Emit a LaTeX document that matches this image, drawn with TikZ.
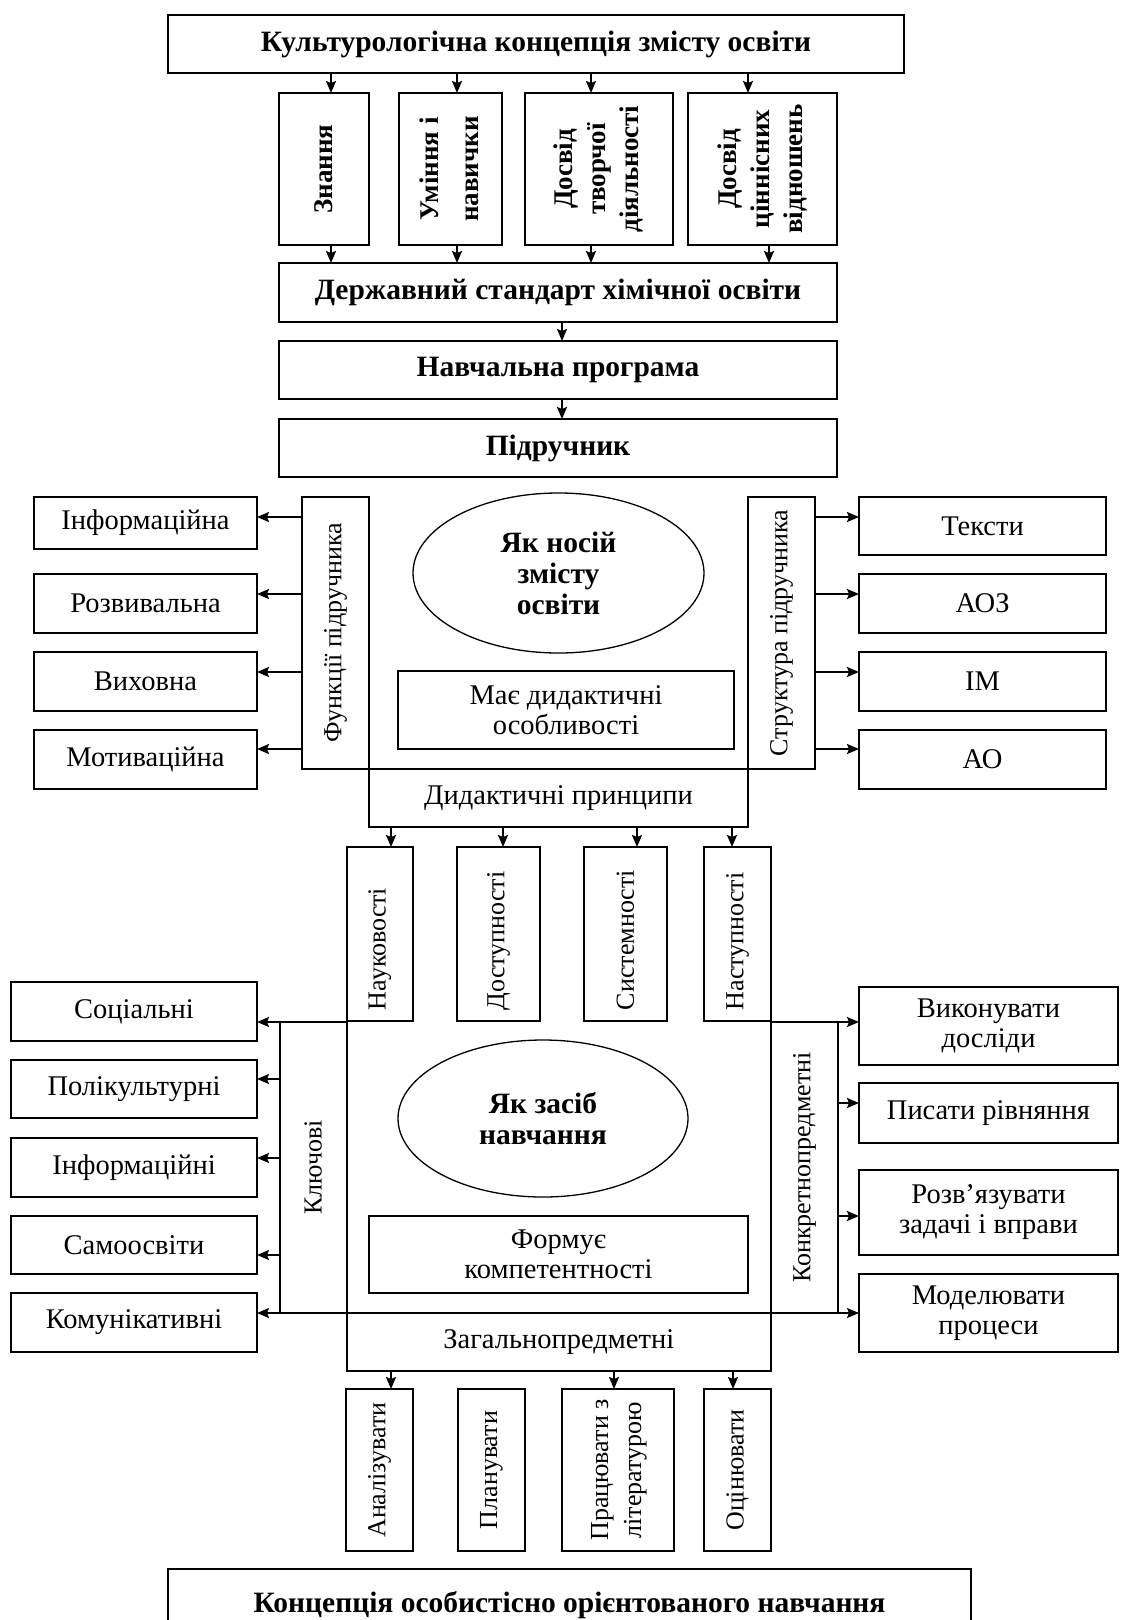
\documentclass[tikz,border=0pt]{standalone}
\usepackage{fontspec}
\setmainfont{Liberation Serif}
\usepackage{graphicx}
\usetikzlibrary{arrows.meta,shapes.geometric}
\newcommand\myfr{\fontsize{28.5}{30}\selectfont}
\newcommand\myfb{\fontsize{29.5}{31}\selectfont\bfseries}
\newcommand\myrr{\fontsize{26}{33}\selectfont}
\newcommand\myrb{\fontsize{27}{33}\selectfont\bfseries}
\newcommand\rotl[1]{\rotatebox{90}{\begin{tabular}{@{}c@{}}#1\end{tabular}}}
\newcommand\rotb[2]{\rotatebox{90}{\makebox[#1][l]{#2}}}
\tikzset{
  every node/.style={outer sep=0pt},
  sz/.style 2 args={minimum width=#1pt, minimum height=#2pt},
  bx/.style={draw, line width=2pt, inner sep=0pt, align=center, font=\myfr},
  bbx/.style={bx, font=\myfb},
  ell/.style={draw, ellipse, line width=1.3pt, inner sep=0pt, align=center, font=\myfb},
  arr/.style={line width=1.6pt, -{Stealth[length=12pt,width=10pt,inset=2pt]}}
}
\begin{document}
\begin{tikzpicture}[x=1pt,y=-1pt]
\useasboundingbox (0,0) rectangle (1120,1620);
\fill[white] (0,0) rectangle (1120,1620);
\clip (0,0) rectangle (1120,1620);

% ---------- section 1
\node[bbx, sz={736}{58}] (top) at (536,44) {Культурологічна концепція змісту освіти};
\node[bbx, sz={90}{152}]  (v1) at (324,169)   {\myrb\rotatebox{90}{Знання}};
\node[bbx, sz={103}{152}] (v2) at (450.5,169) {\fontsize{27}{40}\selectfont\bfseries\rotl{Уміння і\\навички}};
\node[bbx, sz={148}{152}] (v3) at (599,169)   {\myrb\rotl{Досвід\\творчої\\діяльності}};
\node[bbx, sz={149}{152}] (v4) at (762.5,169) {\myrb\rotl{Досвід\\ціннісних\\відношень}};
\node[bbx, sz={558}{59}] (ds) at (558,292.5) {Державний стандарт хімічної освіти};
\node[bbx, sz={558}{58}] (np) at (558,370) {Навчальна програма};
\node[bbx, sz={558}{58}] (pd) at (558,448) {Підручник};

\draw[arr] (top.south -| 331,0) -- (v1.north -| 331,0);
\draw[arr] (top.south -| 457,0) -- (v2.north -| 457,0);
\draw[arr] (top.south -| 591,0) -- (v3.north -| 591,0);
\draw[arr] (top.south -| 748,0) -- (v4.north -| 748,0);
\draw[arr] (v1.south -| 331,0) -- (ds.north -| 331,0);
\draw[arr] (v2.south -| 457,0) -- (ds.north -| 457,0);
\draw[arr] (v3.south -| 591,0) -- (ds.north -| 591,0);
\draw[arr] (v4.south -| 769,0) -- (ds.north -| 769,0);
\draw[arr] (ds.south -| 562,0) -- (np.north -| 562,0);
\draw[arr] (np.south -| 562,0) -- (pd.north -| 562,0);

% ---------- section 2
\node[bx, sz={67}{272}] (fc) at (335.5,633) {\myrr\rotatebox{90}{Функції підручника}};
\node[bx, sz={67}{272}] (sc) at (781.5,633) {\myrr\rotatebox{90}{Структура підручника}};
\node[bx, sz={379}{58}] (dp) at (558.5,798) {Дидактичні принципи};
\node[ell, minimum width=291pt, minimum height=160pt] (e1) at (558.5,573) {Як носій\\змісту\\освіти};
\node[bx, sz={336}{78}] (ma) at (566,710) {Має дидактичні\\особливості};

\node[bx, sz={223}{52}] (inf) at (145.5,523)   {Інформаційна};
\node[bx, sz={223}{59}] (roz) at (145.5,603.5) {Розвивальна};
\node[bx, sz={223}{59}] (vyh) at (145.5,681.5) {Виховна};
\node[bx, sz={223}{59}] (mot) at (145.5,759.5) {Мотиваційна};
\node[bx, sz={247}{58}] (tek) at (982.5,526)   {Тексти};
\node[bx, sz={247}{59}] (aoz) at (982.5,603.5) {АОЗ};
\node[bx, sz={247}{59}] (im)  at (982.5,681.5) {ІМ};
\node[bx, sz={247}{59}] (ao)  at (982.5,759.5) {АО};

\draw[arr] (fc.west |- 0,517) -- (inf.east |- 0,517);
\draw[arr] (fc.west |- 0,594) -- (roz.east |- 0,594);
\draw[arr] (fc.west |- 0,672) -- (vyh.east |- 0,672);
\draw[arr] (fc.west |- 0,749) -- (mot.east |- 0,749);
\draw[arr] (sc.east |- 0,517) -- (tek.west |- 0,517);
\draw[arr] (sc.east |- 0,594) -- (aoz.west |- 0,594);
\draw[arr] (sc.east |- 0,672) -- (im.west |- 0,672);
\draw[arr] (sc.east |- 0,749) -- (ao.west |- 0,749);

% ---------- section 3
\node[bx, sz={66.5}{174}] (nau) at (379.75,934) {\myrr\rotb{152pt}{Науковості}};
\node[bx, sz={83}{174}]   (dos) at (498.5,934)  {\myrr\rotb{152pt}{Доступності}};
\node[bx, sz={83}{174}]   (sys) at (625.5,934)  {\myrr\rotb{152pt}{Системності}};
\node[bx, sz={67}{174}]   (nas) at (737.5,934)  {\myrr\rotb{152pt}{Наступності}};

\draw[arr] (dp.south -| 391,0) -- (nau.north -| 391,0);
\draw[arr] (dp.south -| 503,0) -- (dos.north -| 503,0);
\draw[arr] (dp.south -| 637,0) -- (sys.north -| 637,0);
\draw[arr] (dp.south -| 732,0) -- (nas.north -| 732,0);

\node[bx, sz={66.5}{291}] (kl) at (313.25,1167.5) {\myrr\rotatebox{90}{Ключові}};
\node[bx, sz={67}{291}]   (kp) at (804.5,1167.5)  {\myrr\rotatebox{90}{Конкретнопредметні}};
\node[bx, sz={424.5}{58}] (zag) at (558.75,1342) {Загальнопредметні};
\node[ell, minimum width=290pt, minimum height=157pt] (e2) at (543,1118.5) {Як засіб\\навчання};
\node[bx, sz={379}{77}] (fk) at (558.5,1254.5) {Формує\\компетентності};

\node[bx, sz={246}{59}] (soc) at (134,1011.5) {Соціальні};
\node[bx, sz={246}{58}] (pol) at (134,1089)   {Полікультурні};
\node[bx, sz={246}{59}] (ifi) at (134,1167.5) {Інформаційні};
\node[bx, sz={246}{58}] (sam) at (134,1245)   {Самоосвіти};
\node[bx, sz={246}{59}] (kom) at (134,1322.5) {Комунікативні};
\node[bx, sz={259}{78}] (vyk) at (988.5,1026)   {Виконувати\\досліди};
\node[bx, sz={259}{60}] (pys) at (988.5,1113)   {Писати рівняння};
\node[bx, sz={259}{85}] (rzv) at (988.5,1212.5) {Розв’язувати\\задачі і вправи};
\node[bx, sz={259}{78}] (mdl) at (988.5,1313)   {Моделювати\\процеси};

\draw[arr] (kl.west |- 0,1022) -- (soc.east |- 0,1022);
\draw[arr] (kl.west |- 0,1079) -- (pol.east |- 0,1079);
\draw[arr] (kl.west |- 0,1158) -- (ifi.east |- 0,1158);
\draw[arr] (kl.west |- 0,1255) -- (sam.east |- 0,1255);
\draw[arr] (kl.west |- 0,1313) -- (kom.east |- 0,1313);
\draw[arr] (kp.east |- 0,1022) -- (vyk.west |- 0,1022);
\draw[arr] (kp.east |- 0,1103) -- (pys.west |- 0,1103);
\draw[arr] (kp.east |- 0,1216) -- (rzv.west |- 0,1216);
\draw[arr] (kp.east |- 0,1313) -- (mdl.west |- 0,1313);

% ---------- section 4
\node[bx, sz={67}{162}]  (an) at (379.5,1470) {\myrr\rotatebox{90}{Аналізувати}};
\node[bx, sz={67}{162}]  (pl) at (491.5,1470) {\myrr\rotatebox{90}{Планувати}};
\node[bx, sz={112}{162}] (pr) at (618,1470)   {\myrr\rotl{Працювати з\\літературою}};
\node[bx, sz={67}{162}]  (oc) at (737.5,1470) {\myrr\rotatebox{90}{Оцінювати}};

\draw[arr] (zag.south -| 391,0) -- (an.north -| 391,0);
\draw[arr] (zag.south -| 614,0) -- (pr.north -| 614,0);
\draw[arr] (zag.south -| 733,0) -- (oc.north -| 733,0);

\node[bbx, sz={803}{72}] (fin) at (569.5,1605) {Концепція особистісно орієнтованого навчання};
\end{tikzpicture}
\end{document}
